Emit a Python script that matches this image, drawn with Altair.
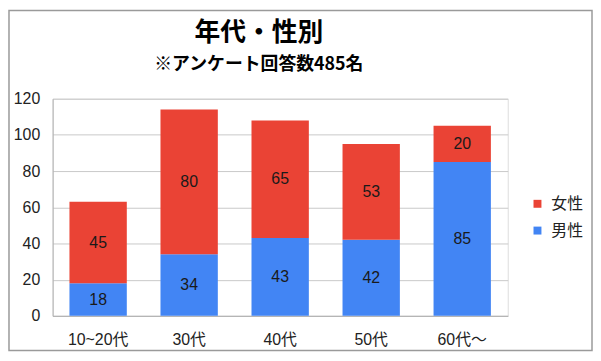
import altair as alt
import pandas as pd

ages = ['10~20代', '30代', '40代', '50代', '60代〜']
male = [18, 34, 43, 42, 85]
female = [45, 80, 65, 53, 20]
genders = ['女性', '男性']
colors = ['#EA4335', '#4285F4']
y_ticks = [0, 20, 40, 60, 80, 100, 120]
title_text = '年代・性別'
subtitle_text = '※アンケート回答数485名'

rows = []
for a, m, f in zip(ages, male, female):
    rows.append({'age': a, 'gender': '男性', 'count': m, 'ord': 0})
    rows.append({'age': a, 'gender': '女性', 'count': f, 'ord': 1})
df = pd.DataFrame(rows)

W, H = 459, 219
PAD = {'left': 45, 'top': 90, 'right': 86, 'bottom': 36}
LBL_FONT = 'Liberation Sans, Arial, Noto Sans CJK JP, sans-serif'

base = alt.Chart(df).transform_stack(
    stack='count', groupby=['age'], as_=['v0', 'v1'],
    sort=[alt.SortField('ord', order='ascending')]
).transform_calculate(mid='(datum.v0 + datum.v1) / 2')

x_axis = alt.Axis(labelAngle=0, ticks=False, domainColor='#b0b0b0',
                  labelPadding=16, labelFontSize=16, labelFont=LBL_FONT,
                  labelColor='#222222')
x_scale = alt.Scale(paddingInner=0.37, paddingOuter=0.185)
y_axis = alt.Axis(values=y_ticks, ticks=False, domainColor='#b0b0b0',
                  gridColor='#c8c8c8', labelPadding=13, labelFontSize=16,
                  labelFont=LBL_FONT, labelColor='#222222',
                  labelOverlap=False, labelBound=False, labelFlush=False)
y_scale = alt.Scale(domain=[0, 120], nice=False)

bars = base.mark_bar().encode(
    x=alt.X('age:N', sort=ages, title=None, scale=x_scale, axis=x_axis),
    y=alt.Y('v0:Q', title=None, scale=y_scale, axis=y_axis),
    y2='v1:Q',
    color=alt.Color('gender:N', scale=alt.Scale(domain=genders, range=colors),
                    legend=alt.Legend(title=None, orient='none', legendX=481, legendY=98,
                                      symbolType='square', symbolSize=64,
                                      symbolStrokeWidth=0, labelFontSize=16,
                                      labelFont='Noto Sans CJK JP', labelColor='#222222',
                                      rowPadding=11, labelOffset=6)),
)

labels = base.mark_text(fontSize=16, font=LBL_FONT, color='#1a1a1a', baseline='middle').encode(
    x=alt.X('age:N', sort=ages, title=None, scale=x_scale, axis=x_axis),
    y=alt.Y('mid:Q', title=None, scale=y_scale, axis=y_axis),
    text='count:Q',
)

one = alt.Data(values=[{}])
title = alt.Chart(one).mark_text(
    text=title_text, font='Noto Sans CJK JP', fontSize=26, fontWeight='bold',
    color='#000000', baseline='middle', align='center'
).encode(x=alt.value(208), y=alt.value(-66))
subtitle = alt.Chart(one).mark_text(
    text=subtitle_text, font='Noto Sans CJK JP', fontSize=18, fontWeight='bold',
    color='#000000', baseline='middle', align='center'
).encode(x=alt.value(208), y=alt.value(-34))

border = alt.Chart(one).mark_rect(
    filled=False, stroke='#9a9a9a', strokeWidth=1.5
).encode(
    x=alt.value(-PAD['left'] + 1), x2=alt.value(W + PAD['right'] - 1),
    y=alt.value(-PAD['top'] + 1), y2=alt.value(H + PAD['bottom'] - 1),
)

chart = alt.layer(bars, labels, title, subtitle, border).properties(
    width=W, height=H,
    autosize=alt.AutoSizeParams(type='none'),
    padding=PAD,
).configure_view(stroke=None).configure(background='white')

chart.save('out.html', embed_options={'renderer': 'svg', 'actions': False})
